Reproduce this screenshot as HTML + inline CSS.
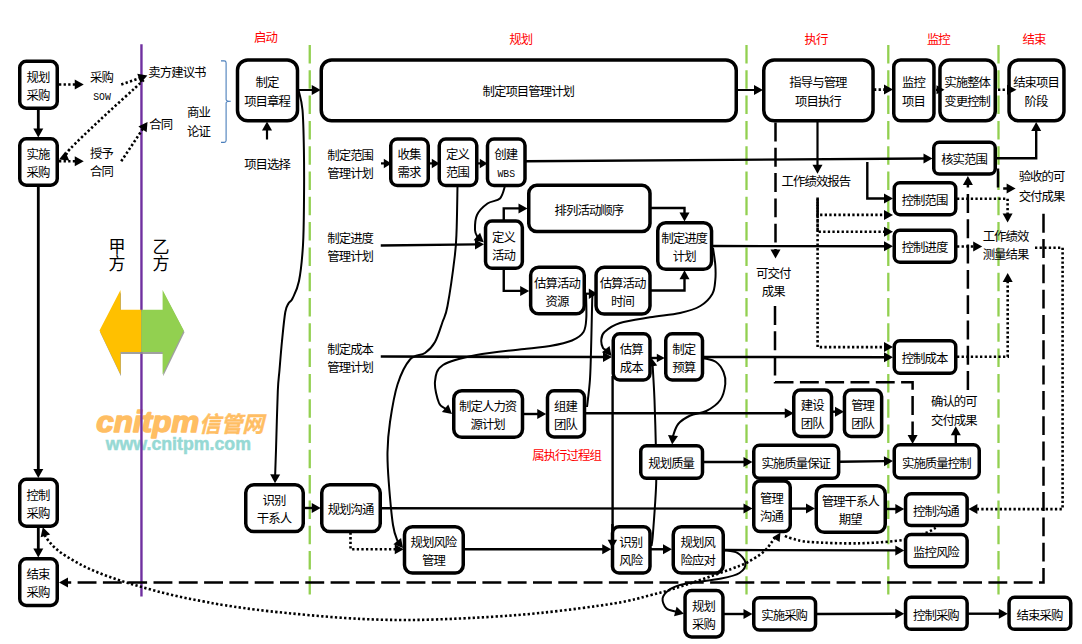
<!DOCTYPE html>
<html lang="zh-CN"><head><meta charset="utf-8"><title>项目管理过程组流程图</title>
<style>
html,body{margin:0;padding:0;background:#fff;}
body{width:1082px;height:644px;overflow:hidden;}
svg{display:block;font-family:'Liberation Sans','Noto Sans CJK SC',sans-serif;font-weight:400;}
</style></head><body>
<svg width="1082" height="644" viewBox="0 0 1082 644">
<rect width="1082" height="644" fill="#fff"/>
<line x1="309.75" y1="45" x2="309.75" y2="594.5" stroke="#92D050" stroke-width="2.3" stroke-dasharray="18.5 6.8"/>
<line x1="746.5" y1="45" x2="746.5" y2="594.5" stroke="#92D050" stroke-width="2.3" stroke-dasharray="18.5 6.8"/>
<line x1="888.3" y1="45" x2="888.3" y2="594.5" stroke="#92D050" stroke-width="2.3" stroke-dasharray="18.5 6.8"/>
<line x1="998.5" y1="45" x2="998.5" y2="594.5" stroke="#92D050" stroke-width="2.3" stroke-dasharray="18.5 6.8"/>
<text x="96.3" y="431.9" font-size="29.5" font-weight="bold" font-style="italic" fill="#FFBE63" stroke="#FFBE63" stroke-width="1.5" stroke-linejoin="round" textLength="103" lengthAdjust="spacingAndGlyphs">cnitpm</text>
<text x="199" y="432" font-size="22" font-weight="bold" font-style="italic" fill="#FFBE63" stroke="#FFBE63" stroke-width="0.4" stroke-linejoin="round" textLength="65" lengthAdjust="spacingAndGlyphs">信管网</text>
<text x="105.7" y="450.1" font-size="17.6" font-weight="bold" fill="#96D9D4" stroke="#96D9D4" stroke-width="0.5" textLength="145.3" lengthAdjust="spacingAndGlyphs">www.cnitpm.com</text>
<line x1="141.45" y1="44.3" x2="141.45" y2="596.5" stroke="#7030A0" stroke-width="2.4"/>
<polygon points="100.1,332.3 121,292 121,311.6 142,311.6 142,354 121,354 121,376.3" fill="#8f8f8f" opacity="0.85"/>
<polygon points="184.5,332.3 163.2,292 163.2,311.6 142,311.6 142,354 163.2,354 163.2,376.3" fill="#8f8f8f" opacity="0.85"/>
<polygon points="99.5,330.5 120.5,290 120.5,309.8 141.4,309.8 141.4,352 120.5,352 120.5,374.5" fill="#FFC000"/>
<polygon points="183.8,330.5 162.6,290 162.6,309.8 141.4,309.8 141.4,352 162.6,352 162.6,374.5" fill="#92D050"/>
<path d="M221,60.9 L224.2,60.9 Q226.1,60.9 226.1,62.8 L226.1,99.4 Q226.1,101.2 230.8,101.2 Q226.1,101.2 226.1,103 L226.1,140.5 Q226.1,142.4 224.2,142.4 L221,142.4" fill="none" stroke="#4A7EBB" stroke-width="1.1"/>
<polygon points="275.00,483.30 270.16,474.21 280.16,474.39" fill="#000"/>
<path d="M298.75,91.00 C299.38,94.17 301.64,100.17 302.50,110.00 C303.36,119.83 303.65,135.00 303.90,150.00 C304.15,165.00 304.15,184.17 304.00,200.00 C303.85,215.83 303.83,231.50 303.00,245.00 C302.17,258.50 300.75,272.08 299.00,281.00 C297.25,289.92 294.23,294.78 292.50,298.50 C290.77,302.22 289.80,301.05 288.60,303.30 C287.40,305.55 286.40,305.72 285.30,312.00 C284.20,318.28 282.97,331.33 282.00,341.00 C281.03,350.67 280.20,361.67 279.50,370.00 C278.80,378.33 278.38,377.67 277.80,391.00 C277.22,404.33 276.44,435.95 276.00,450.00 C275.56,464.05 275.28,471.08 275.14,475.30" fill="none" stroke="#000" stroke-width="2.0"/>
<polygon points="483.75,242.25 473.64,240.30 480.07,232.63" fill="#000"/>
<path d="M505.00,186.00 C504.17,188.08 502.92,195.58 500.00,198.50 C497.08,201.42 491.33,200.75 487.50,203.50 C483.67,206.25 479.08,210.58 477.00,215.00 C474.92,219.42 474.90,226.32 475.00,230.00 C475.10,233.68 477.18,235.92 477.62,237.11" fill="none" stroke="#000" stroke-width="2.0"/>
<polygon points="403.00,548.00 393.38,544.32 401.05,537.89" fill="#000"/>
<path d="M457.50,186.00 C457.35,193.33 457.05,218.33 456.60,230.00 C456.15,241.67 456.32,243.33 454.80,256.00 C453.28,268.67 449.55,295.00 447.50,306.00 C445.45,317.00 444.58,316.00 442.50,322.00 C440.42,328.00 437.92,336.83 435.00,342.00 C432.08,347.17 429.17,350.08 425.00,353.00 C420.83,355.92 414.58,354.25 410.00,359.50 C405.42,364.75 400.83,374.08 397.50,384.50 C394.17,394.92 391.67,410.75 390.00,422.00 C388.33,433.25 387.71,442.00 387.50,452.00 C387.29,462.00 387.83,469.83 388.75,482.00 C389.67,494.17 391.48,515.02 393.00,525.00 C394.52,534.98 397.05,539.06 397.86,541.87" fill="none" stroke="#000" stroke-width="2.0"/>
<polygon points="452.00,414.00 441.89,412.05 448.32,404.38" fill="#000"/>
<path d="M586.00,293.00 C586.05,297.17 586.72,311.50 586.30,318.00 C585.88,324.50 585.88,328.25 583.50,332.00 C581.12,335.75 577.58,338.17 572.00,340.50 C566.42,342.83 557.58,344.62 550.00,346.00 C542.42,347.38 538.75,347.30 526.50,348.80 C514.25,350.30 490.42,352.30 476.50,355.00 C462.58,357.70 449.92,360.57 443.00,365.00 C436.08,369.43 435.67,375.27 435.00,381.60 C434.33,387.93 437.19,398.46 439.00,403.00 C440.81,407.54 444.73,407.88 445.87,408.86" fill="none" stroke="#000" stroke-width="2.0"/>
<path d="M587.00,407.00 C587.50,402.33 589.28,390.17 590.00,379.00 C590.72,367.83 590.93,353.17 591.30,340.00 C591.67,326.83 591.92,307.67 592.20,300.00 C592.48,292.33 592.87,295.00 593.00,294.00" fill="none" stroke="#000" stroke-width="2.0"/>
<polygon points="611.50,356.00 601.88,352.32 609.55,345.89" fill="#000"/>
<path d="M713.00,248.00 C713.38,250.83 714.92,259.67 715.30,265.00 C715.68,270.33 715.80,275.17 715.30,280.00 C714.80,284.83 714.80,289.67 712.30,294.00 C709.80,298.33 705.68,302.83 700.30,306.00 C694.92,309.17 688.38,311.12 680.00,313.00 C671.62,314.88 660.00,315.63 650.00,317.30 C640.00,318.97 627.58,320.55 620.00,323.00 C612.42,325.45 607.62,329.17 604.50,332.00 C601.38,334.83 601.55,337.33 601.30,340.00 C601.05,342.67 602.16,346.35 603.00,348.00 C603.84,349.65 605.80,349.56 606.36,349.87" fill="none" stroke="#000" stroke-width="2.0"/>
<polygon points="672.20,444.50 668.00,435.10 677.97,435.97" fill="#000"/>
<path d="M703.75,358.25 C705.79,358.88 712.71,359.71 716.00,362.00 C719.29,364.29 721.95,368.33 723.50,372.00 C725.05,375.67 725.83,379.33 725.30,384.00 C724.77,388.67 723.47,395.50 720.30,400.00 C717.13,404.50 711.30,408.42 706.30,411.00 C701.30,413.58 694.98,413.33 690.30,415.50 C685.62,417.67 681.08,420.58 678.20,424.00 C675.32,427.42 673.88,433.91 673.00,436.00 C672.12,438.09 672.91,436.44 672.90,436.53" fill="none" stroke="#000" stroke-width="2.0"/>
<polygon points="651.30,357.80 657.21,365.39 648.34,366.95" fill="#000"/>
<path d="M651.50,546.00 C651.75,543.83 652.22,543.50 653.00,533.00 C653.78,522.50 655.73,497.75 656.20,483.00 C656.67,468.25 656.08,458.33 655.80,444.50 C655.52,430.67 654.93,411.58 654.50,400.00 C654.07,388.42 653.52,380.80 653.20,375.00 C652.88,369.20 652.70,366.82 652.60,365.19" fill="none" stroke="#000" stroke-width="2.0"/>
<polygon points="684.00,613.80 674.01,616.30 676.60,606.64" fill="#000"/>
<path d="M724.20,550.30 C726.40,550.73 733.87,550.82 737.40,552.90 C740.93,554.98 745.05,559.45 745.40,562.80 C745.75,566.15 743.53,570.37 739.50,573.00 C735.47,575.63 728.62,577.07 721.20,578.60 C713.78,580.13 701.87,581.13 695.00,582.20 C688.13,583.27 684.33,583.70 680.00,585.00 C675.67,586.30 671.90,587.78 669.00,590.00 C666.10,592.22 663.05,595.27 662.60,598.30 C662.15,601.33 664.02,605.96 666.30,608.20 C668.58,610.44 674.61,611.14 676.27,611.73" fill="none" stroke="#000" stroke-width="2.0"/>
<polygon points="38.30,137.50 33.30,128.50 43.30,128.50" fill="#000"/>
<path d="M38.30,108.00 L38.30,129.50" fill="none" stroke="#000" stroke-width="2.8"/>
<polygon points="38.30,478.00 33.30,469.00 43.30,469.00" fill="#000"/>
<path d="M38.30,186.00 L38.30,470.00" fill="none" stroke="#000" stroke-width="2.8"/>
<polygon points="38.30,557.50 33.30,548.50 43.30,548.50" fill="#000"/>
<path d="M38.30,527.00 L38.30,549.50" fill="none" stroke="#000" stroke-width="2.8"/>
<polygon points="267.00,121.50 272.00,130.50 262.00,130.50" fill="#000"/>
<path d="M267.00,139.50 L267.00,129.50" fill="none" stroke="#000" stroke-width="2.2"/>
<polygon points="320.75,90.00 311.75,95.00 311.75,85.00" fill="#000"/>
<path d="M298.00,90.00 L312.75,90.00" fill="none" stroke="#000" stroke-width="2"/>
<polygon points="763.00,90.00 754.00,95.00 754.00,85.00" fill="#000"/>
<path d="M737.00,90.00 L755.00,90.00" fill="none" stroke="#000" stroke-width="2"/>
<polygon points="932.50,158.40 923.54,163.46 923.47,153.46" fill="#000"/>
<path d="M526.00,161.25 L924.50,158.46" fill="none" stroke="#000" stroke-width="2.4"/>
<polygon points="484.00,244.30 475.06,249.40 474.94,239.40" fill="#000"/>
<path d="M380.75,245.50 L476.00,244.39" fill="none" stroke="#000" stroke-width="2.4"/>
<polygon points="527.50,208.40 518.50,213.40 518.50,203.40" fill="#000"/>
<path d="M503.75,220.00 L503.75,208.40 L519.50,208.40" fill="none" stroke="#000" stroke-width="2.4"/>
<polygon points="529.20,290.90 520.20,295.90 520.20,285.90" fill="#000"/>
<path d="M503.75,268.00 L503.75,290.90 L521.20,290.90" fill="none" stroke="#000" stroke-width="2.4"/>
<polygon points="684.50,221.50 679.50,212.50 689.50,212.50" fill="#000"/>
<path d="M651.00,208.00 L684.50,208.00 L684.50,213.50" fill="none" stroke="#000" stroke-width="2.4"/>
<polygon points="684.50,270.25 689.50,279.25 679.50,279.25" fill="#000"/>
<path d="M651.00,290.50 L684.50,290.50 L684.50,278.25" fill="none" stroke="#000" stroke-width="2.4"/>
<polygon points="893.00,246.30 883.99,251.29 884.01,241.29" fill="#000"/>
<path d="M712.00,246.00 L885.00,246.29" fill="none" stroke="#000" stroke-width="2.4"/>
<polygon points="612.00,357.00 602.99,361.98 603.01,351.98" fill="#000"/>
<path d="M380.75,356.50 L604.00,356.98" fill="none" stroke="#000" stroke-width="2.7"/>
<polygon points="664.80,358.00 656.80,362.25 656.80,353.75" fill="#000"/>
<path d="M651.00,358.00 L657.80,358.00" fill="none" stroke="#000" stroke-width="2.4"/>
<polygon points="893.00,357.20 883.99,362.19 884.01,352.19" fill="#000"/>
<path d="M703.50,357.00 L885.00,357.19" fill="none" stroke="#000" stroke-width="2.4"/>
<polygon points="546.25,414.00 537.25,419.00 537.25,409.00" fill="#000"/>
<path d="M523.50,414.00 L538.25,414.00" fill="none" stroke="#000" stroke-width="2.4"/>
<polygon points="793.75,413.25 784.75,418.25 784.75,408.25" fill="#000"/>
<path d="M585.50,413.25 L785.75,413.25" fill="none" stroke="#000" stroke-width="2.4"/>
<polygon points="844.00,411.70 835.00,416.70 835.00,406.70" fill="#000"/>
<path d="M832.00,411.70 L836.00,411.70" fill="none" stroke="#000" stroke-width="2.4"/>
<polygon points="752.50,462.00 743.50,467.00 743.50,457.00" fill="#000"/>
<path d="M703.50,462.00 L744.50,462.00" fill="none" stroke="#000" stroke-width="2.4"/>
<polygon points="893.00,461.00 884.08,466.13 883.93,456.14" fill="#000"/>
<path d="M839.50,461.80 L885.00,461.12" fill="none" stroke="#000" stroke-width="2.4"/>
<polygon points="955.80,426.30 960.80,435.30 950.80,435.30" fill="#000"/>
<path d="M955.80,444.50 L955.80,434.30" fill="none" stroke="#000" stroke-width="2.4"/>
<polygon points="320.75,508.00 311.75,513.00 311.75,503.00" fill="#000"/>
<path d="M303.50,508.00 L312.75,508.00" fill="none" stroke="#000" stroke-width="2.4"/>
<polygon points="752.50,508.60 743.50,513.59 743.50,503.59" fill="#000"/>
<path d="M381.00,508.30 L744.50,508.59" fill="none" stroke="#000" stroke-width="2.4"/>
<polygon points="815.00,508.60 806.00,513.60 806.00,503.60" fill="#000"/>
<path d="M791.00,508.60 L807.00,508.60" fill="none" stroke="#000" stroke-width="2.4"/>
<polygon points="904.30,509.00 895.30,514.00 895.30,504.00" fill="#000"/>
<path d="M886.00,509.00 L896.30,509.00" fill="none" stroke="#000" stroke-width="2.4"/>
<polygon points="611.25,549.25 602.25,554.25 602.25,544.25" fill="#000"/>
<path d="M464.00,549.25 L603.25,549.25" fill="none" stroke="#000" stroke-width="2.4"/>
<polygon points="672.00,549.25 663.00,554.25 663.00,544.25" fill="#000"/>
<path d="M651.00,549.25 L664.00,549.25" fill="none" stroke="#000" stroke-width="2.4"/>
<polygon points="904.30,550.40 895.29,555.38 895.31,545.38" fill="#000"/>
<path d="M724.00,550.00 L896.30,550.38" fill="none" stroke="#000" stroke-width="2.4"/>
<polygon points="752.50,614.00 743.50,619.00 743.50,609.00" fill="#000"/>
<path d="M724.00,614.00 L744.50,614.00" fill="none" stroke="#000" stroke-width="2.4"/>
<polygon points="904.30,613.70 895.32,618.73 895.28,608.73" fill="#000"/>
<path d="M816.00,614.00 L896.30,613.73" fill="none" stroke="#000" stroke-width="2.4"/>
<polygon points="1007.80,613.70 998.80,618.70 998.80,608.70" fill="#000"/>
<path d="M968.00,613.70 L999.80,613.70" fill="none" stroke="#000" stroke-width="2.4"/>
<polygon points="817.50,173.75 812.50,164.75 822.50,164.75" fill="#000"/>
<path d="M817.50,122.00 L817.50,165.75" fill="none" stroke="#000" stroke-width="2.2"/>
<polygon points="1036.20,122.00 1041.20,131.00 1031.20,131.00" fill="#000"/>
<path d="M996.00,158.30 L1036.20,158.30 L1036.20,130.00" fill="none" stroke="#000" stroke-width="2.4"/>
<polygon points="893.00,198.50 884.00,203.50 884.00,193.50" fill="#000"/>
<path d="M867.30,162.00 L867.30,198.50 L885.00,198.50" fill="none" stroke="#000" stroke-width="2.4"/>
<path d="M612.60,376.00 L612.60,530.00" fill="none" stroke="#000" stroke-width="2.4"/>
<polygon points="83.75,84.50 74.75,89.50 74.75,79.50" fill="#000"/>
<path d="M59.00,84.50 L75.75,84.50" fill="none" stroke="#000" stroke-width="2.6" stroke-dasharray="2.3 2.3"/>
<polygon points="147.40,75.60 140.49,83.23 137.27,73.77" fill="#000"/>
<path d="M121.25,84.50 L139.83,78.18" fill="none" stroke="#000" stroke-width="2.6" stroke-dasharray="2.3 2.3"/>
<polygon points="59.00,159.50 65.33,151.38 69.24,160.59" fill="#000"/>
<path d="M143.75,80.00 C136.46,86.67 112.29,108.50 100.00,120.00 C87.71,131.50 75.61,142.94 70.00,149.00 C64.39,155.06 66.97,155.15 66.36,156.37" fill="none" stroke="#000" stroke-width="2.6" stroke-dasharray="2.3 2.3"/>
<polygon points="83.75,161.25 74.75,166.25 74.75,156.25" fill="#000"/>
<path d="M59.00,161.25 L75.75,161.25" fill="none" stroke="#000" stroke-width="2.6" stroke-dasharray="2.3 2.3"/>
<polygon points="147.50,121.90 146.66,132.16 138.35,126.61" fill="#000"/>
<path d="M121.25,161.25 L143.06,128.56" fill="none" stroke="#000" stroke-width="2.6" stroke-dasharray="2.3 2.3"/>
<polygon points="893.00,347.10 884.00,352.10 884.00,342.10" fill="#000"/>
<path d="M817.60,197.50 L817.60,347.10 L885.00,347.10" fill="none" stroke="#000" stroke-width="2.6" stroke-dasharray="2.3 2.3"/>
<polygon points="893.00,214.90 884.00,219.90 884.00,209.90" fill="#000"/>
<path d="M817.60,199.00 L817.60,214.90 L885.00,214.90" fill="none" stroke="#000" stroke-width="2.6" stroke-dasharray="2.3 2.3"/>
<polygon points="893.00,231.70 884.00,236.70 884.00,226.70" fill="#000"/>
<path d="M817.60,200.50 L817.60,231.70 L885.00,231.70" fill="none" stroke="#000" stroke-width="2.6" stroke-dasharray="2.3 2.3"/>
<polygon points="1007.60,222.60 1002.60,213.60 1012.60,213.60" fill="#000"/>
<path d="M957.00,198.70 L1007.60,198.70 L1007.60,214.60" fill="none" stroke="#000" stroke-width="2.6" stroke-dasharray="2.3 2.3"/>
<polygon points="982.20,246.50 973.20,251.50 973.20,241.50" fill="#000"/>
<path d="M957.00,246.50 L974.20,246.50" fill="none" stroke="#000" stroke-width="2.6" stroke-dasharray="2.3 2.3"/>
<polygon points="1007.70,272.90 1012.70,281.90 1002.70,281.90" fill="#000"/>
<path d="M957.00,356.70 L1007.70,356.70 L1007.70,280.90" fill="none" stroke="#000" stroke-width="2.6" stroke-dasharray="2.3 2.3"/>
<polygon points="968.40,509.10 977.40,504.10 977.40,514.10" fill="#000"/>
<path d="M1035.00,247.70 L1062.60,247.70 L1062.60,509.10 L976.40,509.10" fill="none" stroke="#000" stroke-width="2.6" stroke-dasharray="2.3 2.3"/>
<polygon points="403.75,549.25 394.75,554.25 394.75,544.25" fill="#000"/>
<path d="M350.50,532.50 L350.50,549.25 L395.75,549.25" fill="none" stroke="#000" stroke-width="2.6" stroke-dasharray="2.3 2.3"/>
<polygon points="893.00,89.60 884.00,94.60 884.00,84.60" fill="#000"/>
<path d="M874.00,89.60 L885.00,89.60" fill="none" stroke="#000" stroke-width="2.6" stroke-dasharray="2.3 2.3"/>
<polygon points="42.80,527.30 50.21,534.44 40.65,537.37" fill="#000"/>
<path d="M45.14,534.95 C45.20,535.21 44.56,535.08 45.50,536.50 C46.44,537.92 48.22,540.80 50.80,543.50 C53.38,546.20 55.92,549.13 61.00,552.70 C66.08,556.27 74.52,561.35 81.30,564.90 C88.08,568.45 94.92,571.30 101.70,574.00 C108.48,576.70 115.23,578.90 122.00,581.10 C128.77,583.30 135.52,585.27 142.30,587.20 C149.08,589.13 155.92,591.00 162.70,592.70 C169.48,594.40 176.23,595.95 183.00,597.40 C189.77,598.85 196.30,600.08 203.30,601.40 C210.30,602.72 213.88,603.65 225.00,605.30 C236.12,606.95 250.00,609.18 270.00,611.30 C290.00,613.42 322.50,616.55 345.00,618.00 C367.50,619.45 384.17,620.00 405.00,620.00 C425.83,620.00 447.50,619.17 470.00,618.00 C492.50,616.83 515.83,615.45 540.00,613.00 C564.17,610.55 596.67,606.25 615.00,603.30 C633.33,600.35 640.78,597.55 650.00,595.30 C659.22,593.05 663.52,591.82 670.30,589.80 C677.08,587.78 683.92,585.47 690.70,583.20 C697.48,580.93 704.23,578.58 711.00,576.20 C717.77,573.82 725.20,571.22 731.30,568.90 C737.40,566.58 742.17,565.18 747.60,562.30 C753.03,559.42 759.83,555.02 763.90,551.60 C767.97,548.18 769.98,544.40 772.00,541.80 C774.02,539.20 775.33,536.97 776.00,536.00" fill="none" stroke="#000" stroke-width="2.6" stroke-dasharray="2.3 2.3"/>
<path d="M935.70,527.70 C934.42,528.42 933.03,530.02 928.00,532.00 C922.97,533.98 916.83,537.72 905.50,539.60 C894.17,541.48 875.92,542.90 860.00,543.30 C844.08,543.70 821.33,542.80 810.00,542.00 C798.67,541.20 796.33,539.58 792.00,538.50 C787.67,537.42 785.33,536.00 784.00,535.50" fill="none" stroke="#000" stroke-width="2.6" stroke-dasharray="2.3 2.3"/>
<polygon points="775.50,258.50 770.50,249.50 780.50,249.50" fill="#000"/>
<path d="M775.50,122.50 L775.50,250.50" fill="none" stroke="#000" stroke-width="2.5" stroke-dasharray="18.9 6.4"/>
<polygon points="912.60,444.00 907.60,435.00 917.60,435.00" fill="#000"/>
<path d="M775.00,306.00 L775.00,382.30 L912.60,382.30 L912.60,436.00" fill="none" stroke="#000" stroke-width="2.5" stroke-dasharray="18.9 6.4"/>
<polygon points="967.90,176.00 972.90,185.00 962.90,185.00" fill="#000"/>
<path d="M967.90,390.00 L967.90,184.00" fill="none" stroke="#000" stroke-width="2.5" stroke-dasharray="18.9 6.4"/>
<polygon points="1015.60,188.60 1006.60,193.60 1006.60,183.60" fill="#000"/>
<path d="M998.00,168.50 L998.00,188.60 L1007.60,188.60" fill="none" stroke="#000" stroke-width="2.5" stroke-dasharray="18.9 6.4"/>
<polygon points="59.00,582.40 68.00,577.40 68.00,587.40" fill="#000"/>
<path d="M1043.50,213.80 L1043.50,582.40 L67.00,582.40" fill="none" stroke="#000" stroke-width="2.5" stroke-dasharray="18.9 6.4"/>
<rect x="19.75" y="61.25" width="37.50" height="47.00" rx="6.55" ry="6.55" fill="#fff" stroke="#000" stroke-width="3.5"/>
<text transform="translate(38.02,81.95) scale(1.0,1)" font-size="12.4" fill="#000" text-anchor="middle" letter-spacing="-0.95" >规划</text>
<text transform="translate(38.02,99.95) scale(1.0,1)" font-size="12.4" fill="#000" text-anchor="middle" letter-spacing="-0.95" >采购</text>
<rect x="19.75" y="138.75" width="37.50" height="46.50" rx="6.55" ry="6.55" fill="#fff" stroke="#000" stroke-width="3.5"/>
<text transform="translate(38.02,159.20) scale(1.0,1)" font-size="12.4" fill="#000" text-anchor="middle" letter-spacing="-0.95" >实施</text>
<text transform="translate(38.02,177.20) scale(1.0,1)" font-size="12.4" fill="#000" text-anchor="middle" letter-spacing="-0.95" >采购</text>
<rect x="19.75" y="479.25" width="37.50" height="47.00" rx="6.55" ry="6.55" fill="#fff" stroke="#000" stroke-width="3.5"/>
<text transform="translate(38.02,499.95) scale(1.0,1)" font-size="12.4" fill="#000" text-anchor="middle" letter-spacing="-0.95" >控制</text>
<text transform="translate(38.02,517.95) scale(1.0,1)" font-size="12.4" fill="#000" text-anchor="middle" letter-spacing="-0.95" >采购</text>
<rect x="19.75" y="558.75" width="37.50" height="46.75" rx="6.55" ry="6.55" fill="#fff" stroke="#000" stroke-width="3.5"/>
<text transform="translate(38.02,579.32) scale(1.0,1)" font-size="12.4" fill="#000" text-anchor="middle" letter-spacing="-0.95" >结束</text>
<text transform="translate(38.02,597.32) scale(1.0,1)" font-size="12.4" fill="#000" text-anchor="middle" letter-spacing="-0.95" >采购</text>
<rect x="237.50" y="60.00" width="60.00" height="60.75" rx="10.3" ry="10.3" fill="#fff" stroke="#000" stroke-width="3.5"/>
<text transform="translate(267.02,87.10) scale(1.0,1)" font-size="12.4" fill="#000" text-anchor="middle" letter-spacing="-0.95" >制定</text>
<text transform="translate(267.02,106.10) scale(1.0,1)" font-size="12.4" fill="#000" text-anchor="middle" letter-spacing="-0.95" >项目章程</text>
<rect x="321.25" y="60.00" width="415.00" height="60.75" rx="10.43" ry="10.43" fill="#fff" stroke="#000" stroke-width="3.5"/>
<text transform="translate(528.27,95.70) scale(1.0,1)" font-size="12.4" fill="#000" text-anchor="middle" letter-spacing="-0.95" >制定项目管理计划</text>
<rect x="763.75" y="60.00" width="109.30" height="60.75" rx="10.43" ry="10.43" fill="#fff" stroke="#000" stroke-width="3.5"/>
<text transform="translate(817.92,87.10) scale(1.0,1)" font-size="12.4" fill="#000" text-anchor="middle" letter-spacing="-0.95" >指导与管理</text>
<text transform="translate(817.92,106.10) scale(1.0,1)" font-size="12.4" fill="#000" text-anchor="middle" letter-spacing="-0.95" >项目执行</text>
<rect x="893.75" y="60.00" width="40.20" height="60.75" rx="7.0" ry="7.0" fill="#fff" stroke="#000" stroke-width="3.5"/>
<text transform="translate(913.38,87.10) scale(1.0,1)" font-size="12.4" fill="#000" text-anchor="middle" letter-spacing="-0.95" >监控</text>
<text transform="translate(913.38,106.10) scale(1.0,1)" font-size="12.4" fill="#000" text-anchor="middle" letter-spacing="-0.95" >项目</text>
<rect x="939.95" y="60.00" width="55.30" height="60.75" rx="9.52" ry="9.52" fill="#fff" stroke="#000" stroke-width="3.5"/>
<text transform="translate(967.12,87.10) scale(1.0,1)" font-size="12.4" fill="#000" text-anchor="middle" letter-spacing="-0.95" >实施整体</text>
<text transform="translate(967.12,106.10) scale(1.0,1)" font-size="12.4" fill="#000" text-anchor="middle" letter-spacing="-0.95" >变更控制</text>
<rect x="1009.05" y="60.00" width="54.90" height="60.75" rx="9.45" ry="9.45" fill="#fff" stroke="#000" stroke-width="3.5"/>
<text transform="translate(1036.03,87.10) scale(1.0,1)" font-size="12.4" fill="#000" text-anchor="middle" letter-spacing="-0.95" >结束项目</text>
<text transform="translate(1036.03,106.10) scale(1.0,1)" font-size="12.4" fill="#000" text-anchor="middle" letter-spacing="-0.95" >阶段</text>
<rect x="390.75" y="138.95" width="37.50" height="46.60" rx="6.55" ry="6.55" fill="#fff" stroke="#000" stroke-width="3.5"/>
<text transform="translate(409.02,159.45) scale(1.0,1)" font-size="12.4" fill="#000" text-anchor="middle" letter-spacing="-0.95" >收集</text>
<text transform="translate(409.02,177.45) scale(1.0,1)" font-size="12.4" fill="#000" text-anchor="middle" letter-spacing="-0.95" >需求</text>
<rect x="439.25" y="138.95" width="37.50" height="46.60" rx="6.55" ry="6.55" fill="#fff" stroke="#000" stroke-width="3.5"/>
<text transform="translate(457.52,159.45) scale(1.0,1)" font-size="12.4" fill="#000" text-anchor="middle" letter-spacing="-0.95" >定义</text>
<text transform="translate(457.52,177.45) scale(1.0,1)" font-size="12.4" fill="#000" text-anchor="middle" letter-spacing="-0.95" >范围</text>
<rect x="487.50" y="138.95" width="37.50" height="46.60" rx="6.55" ry="6.55" fill="#fff" stroke="#000" stroke-width="3.5"/>
<text transform="translate(505.77,159.45) scale(1.0,1)" font-size="12.4" fill="#000" text-anchor="middle" letter-spacing="-0.95" >创建</text>
<text transform="translate(506.25,177.40) scale(0.85,1)" font-size="11.5" fill="#000" text-anchor="middle" letter-spacing="0" font-family="Liberation Mono,monospace">WBS</text>
<rect x="528.75" y="185.35" width="121.25" height="46.20" rx="8.0" ry="8.0" fill="#fff" stroke="#000" stroke-width="3.5"/>
<text transform="translate(588.90,214.65) scale(1.0,1)" font-size="12.4" fill="#000" text-anchor="middle" letter-spacing="-0.95" >排列活动顺序</text>
<rect x="485.55" y="221.05" width="36.80" height="47.20" rx="6.43" ry="6.43" fill="#fff" stroke="#000" stroke-width="3.5"/>
<text transform="translate(503.48,241.85) scale(1.0,1)" font-size="12.4" fill="#000" text-anchor="middle" letter-spacing="-0.95" >定义</text>
<text transform="translate(503.48,259.85) scale(1.0,1)" font-size="12.4" fill="#000" text-anchor="middle" letter-spacing="-0.95" >活动</text>
<rect x="530.65" y="267.25" width="53.60" height="46.50" rx="8.05" ry="8.05" fill="#fff" stroke="#000" stroke-width="3.5"/>
<text transform="translate(556.98,287.70) scale(1.0,1)" font-size="12.4" fill="#000" text-anchor="middle" letter-spacing="-0.95" >估算活动</text>
<text transform="translate(556.98,305.70) scale(1.0,1)" font-size="12.4" fill="#000" text-anchor="middle" letter-spacing="-0.95" >资源</text>
<rect x="596.05" y="267.25" width="53.95" height="46.80" rx="8.1" ry="8.1" fill="#fff" stroke="#000" stroke-width="3.5"/>
<text transform="translate(622.55,287.85) scale(1.0,1)" font-size="12.4" fill="#000" text-anchor="middle" letter-spacing="-0.95" >估算活动</text>
<text transform="translate(622.55,305.85) scale(1.0,1)" font-size="12.4" fill="#000" text-anchor="middle" letter-spacing="-0.95" >时间</text>
<rect x="657.75" y="222.75" width="53.80" height="46.50" rx="8.05" ry="8.05" fill="#fff" stroke="#000" stroke-width="3.5"/>
<text transform="translate(684.17,243.20) scale(1.0,1)" font-size="12.4" fill="#000" text-anchor="middle" letter-spacing="-0.95" >制定进度</text>
<text transform="translate(684.17,261.20) scale(1.0,1)" font-size="12.4" fill="#000" text-anchor="middle" letter-spacing="-0.95" >计划</text>
<rect x="613.25" y="333.75" width="36.75" height="46.25" rx="6.43" ry="6.43" fill="#fff" stroke="#000" stroke-width="3.5"/>
<text transform="translate(631.15,354.07) scale(1.0,1)" font-size="12.4" fill="#000" text-anchor="middle" letter-spacing="-0.95" >估算</text>
<text transform="translate(631.15,372.07) scale(1.0,1)" font-size="12.4" fill="#000" text-anchor="middle" letter-spacing="-0.95" >成本</text>
<rect x="665.75" y="333.75" width="36.75" height="46.25" rx="6.43" ry="6.43" fill="#fff" stroke="#000" stroke-width="3.5"/>
<text transform="translate(683.65,354.07) scale(1.0,1)" font-size="12.4" fill="#000" text-anchor="middle" letter-spacing="-0.95" >制定</text>
<text transform="translate(683.65,372.07) scale(1.0,1)" font-size="12.4" fill="#000" text-anchor="middle" letter-spacing="-0.95" >预算</text>
<rect x="453.75" y="390.75" width="68.75" height="46.50" rx="8.05" ry="8.05" fill="#fff" stroke="#000" stroke-width="3.5"/>
<text transform="translate(487.65,411.20) scale(1.0,1)" font-size="12.4" fill="#000" text-anchor="middle" letter-spacing="-0.95" >制定人力资</text>
<text transform="translate(487.65,429.20) scale(1.0,1)" font-size="12.4" fill="#000" text-anchor="middle" letter-spacing="-0.95" >源计划</text>
<rect x="547.50" y="390.75" width="37.00" height="46.25" rx="6.47" ry="6.47" fill="#fff" stroke="#000" stroke-width="3.5"/>
<text transform="translate(565.52,411.07) scale(1.0,1)" font-size="12.4" fill="#000" text-anchor="middle" letter-spacing="-0.95" >组建</text>
<text transform="translate(565.52,429.07) scale(1.0,1)" font-size="12.4" fill="#000" text-anchor="middle" letter-spacing="-0.95" >团队</text>
<rect x="793.75" y="390.05" width="37.80" height="46.40" rx="6.6" ry="6.6" fill="#fff" stroke="#000" stroke-width="3.5"/>
<text transform="translate(812.17,410.45) scale(1.0,1)" font-size="12.4" fill="#000" text-anchor="middle" letter-spacing="-0.95" >建设</text>
<text transform="translate(812.17,428.45) scale(1.0,1)" font-size="12.4" fill="#000" text-anchor="middle" letter-spacing="-0.95" >团队</text>
<rect x="844.45" y="390.05" width="37.20" height="46.40" rx="6.5" ry="6.5" fill="#fff" stroke="#000" stroke-width="3.5"/>
<text transform="translate(862.57,410.45) scale(1.0,1)" font-size="12.4" fill="#000" text-anchor="middle" letter-spacing="-0.95" >管理</text>
<text transform="translate(862.57,428.45) scale(1.0,1)" font-size="12.4" fill="#000" text-anchor="middle" letter-spacing="-0.95" >团队</text>
<rect x="640.75" y="445.75" width="61.75" height="32.50" rx="5.72" ry="5.72" fill="#fff" stroke="#000" stroke-width="3.5"/>
<text transform="translate(671.15,468.20) scale(1.0,1)" font-size="12.4" fill="#000" text-anchor="middle" letter-spacing="-0.95" >规划质量</text>
<rect x="753.75" y="445.35" width="84.90" height="32.90" rx="5.78" ry="5.78" fill="#fff" stroke="#000" stroke-width="3.5"/>
<text transform="translate(795.73,468.00) scale(1.0,1)" font-size="12.4" fill="#000" text-anchor="middle" letter-spacing="-0.95" >实施质量保证</text>
<rect x="894.25" y="444.75" width="85.00" height="33.30" rx="5.85" ry="5.85" fill="#fff" stroke="#000" stroke-width="3.5"/>
<text transform="translate(936.27,467.60) scale(1.0,1)" font-size="12.4" fill="#000" text-anchor="middle" letter-spacing="-0.95" >实施质量控制</text>
<rect x="933.75" y="142.25" width="61.50" height="31.80" rx="5.6" ry="5.6" fill="#fff" stroke="#000" stroke-width="3.5"/>
<text transform="translate(964.02,164.35) scale(1.0,1)" font-size="12.4" fill="#000" text-anchor="middle" letter-spacing="-0.95" >核实范围</text>
<rect x="894.25" y="182.75" width="61.50" height="32.00" rx="5.63" ry="5.63" fill="#fff" stroke="#000" stroke-width="3.5"/>
<text transform="translate(924.52,204.95) scale(1.0,1)" font-size="12.4" fill="#000" text-anchor="middle" letter-spacing="-0.95" >控制范围</text>
<rect x="894.25" y="230.25" width="61.50" height="32.00" rx="5.63" ry="5.63" fill="#fff" stroke="#000" stroke-width="3.5"/>
<text transform="translate(924.52,252.45) scale(1.0,1)" font-size="12.4" fill="#000" text-anchor="middle" letter-spacing="-0.95" >控制进度</text>
<rect x="894.25" y="340.85" width="61.50" height="32.40" rx="5.7" ry="5.7" fill="#fff" stroke="#000" stroke-width="3.5"/>
<text transform="translate(924.52,363.25) scale(1.0,1)" font-size="12.4" fill="#000" text-anchor="middle" letter-spacing="-0.95" >控制成本</text>
<rect x="245.75" y="484.75" width="57.50" height="46.80" rx="8.1" ry="8.1" fill="#fff" stroke="#000" stroke-width="3.5"/>
<text transform="translate(274.02,505.35) scale(1.0,1)" font-size="12.4" fill="#000" text-anchor="middle" letter-spacing="-0.95" >识别</text>
<text transform="translate(274.02,523.35) scale(1.0,1)" font-size="12.4" fill="#000" text-anchor="middle" letter-spacing="-0.95" >干系人</text>
<rect x="321.75" y="484.75" width="58.50" height="46.80" rx="8.1" ry="8.1" fill="#fff" stroke="#000" stroke-width="3.5"/>
<text transform="translate(350.52,514.35) scale(1.0,1)" font-size="12.4" fill="#000" text-anchor="middle" letter-spacing="-0.95" >规划沟通</text>
<rect x="404.50" y="526.65" width="58.75" height="46.40" rx="8.03" ry="8.03" fill="#fff" stroke="#000" stroke-width="3.5"/>
<text transform="translate(433.40,547.05) scale(1.0,1)" font-size="12.4" fill="#000" text-anchor="middle" letter-spacing="-0.95" >规划风险</text>
<text transform="translate(433.40,565.05) scale(1.0,1)" font-size="12.4" fill="#000" text-anchor="middle" letter-spacing="-0.95" >管理</text>
<rect x="612.50" y="526.65" width="37.50" height="46.40" rx="6.55" ry="6.55" fill="#fff" stroke="#000" stroke-width="3.5"/>
<text transform="translate(630.77,547.05) scale(1.0,1)" font-size="12.4" fill="#000" text-anchor="middle" letter-spacing="-0.95" >识别</text>
<text transform="translate(630.77,565.05) scale(1.0,1)" font-size="12.4" fill="#000" text-anchor="middle" letter-spacing="-0.95" >风险</text>
<rect x="673.25" y="526.65" width="50.00" height="46.40" rx="8.03" ry="8.03" fill="#fff" stroke="#000" stroke-width="3.5"/>
<text transform="translate(697.77,547.05) scale(1.0,1)" font-size="12.4" fill="#000" text-anchor="middle" letter-spacing="-0.95" >规划风</text>
<text transform="translate(697.77,565.05) scale(1.0,1)" font-size="12.4" fill="#000" text-anchor="middle" letter-spacing="-0.95" >险应对</text>
<rect x="753.75" y="480.95" width="36.50" height="50.60" rx="6.38" ry="6.38" fill="#fff" stroke="#000" stroke-width="3.5"/>
<text transform="translate(771.52,503.45) scale(1.0,1)" font-size="12.4" fill="#000" text-anchor="middle" letter-spacing="-0.95" >管理</text>
<text transform="translate(771.52,521.45) scale(1.0,1)" font-size="12.4" fill="#000" text-anchor="middle" letter-spacing="-0.95" >沟通</text>
<rect x="816.25" y="485.75" width="69.00" height="46.50" rx="8.05" ry="8.05" fill="#fff" stroke="#000" stroke-width="3.5"/>
<text transform="translate(850.27,506.20) scale(1.0,1)" font-size="12.4" fill="#000" text-anchor="middle" letter-spacing="-0.95" >管理干系人</text>
<text transform="translate(850.27,524.20) scale(1.0,1)" font-size="12.4" fill="#000" text-anchor="middle" letter-spacing="-0.95" >期望</text>
<rect x="905.55" y="493.75" width="61.60" height="31.80" rx="5.6" ry="5.6" fill="#fff" stroke="#000" stroke-width="3.5"/>
<text transform="translate(935.87,515.85) scale(1.0,1)" font-size="12.4" fill="#000" text-anchor="middle" letter-spacing="-0.95" >控制沟通</text>
<rect x="905.55" y="534.55" width="61.60" height="32.30" rx="5.68" ry="5.68" fill="#fff" stroke="#000" stroke-width="3.5"/>
<text transform="translate(935.87,556.90) scale(1.0,1)" font-size="12.4" fill="#000" text-anchor="middle" letter-spacing="-0.95" >监控风险</text>
<rect x="685.05" y="590.50" width="37.90" height="46.45" rx="6.62" ry="6.62" fill="#fff" stroke="#000" stroke-width="3.5"/>
<text transform="translate(703.52,610.92) scale(1.0,1)" font-size="12.4" fill="#000" text-anchor="middle" letter-spacing="-0.95" >规划</text>
<text transform="translate(703.52,628.92) scale(1.0,1)" font-size="12.4" fill="#000" text-anchor="middle" letter-spacing="-0.95" >采购</text>
<rect x="753.75" y="597.75" width="61.80" height="32.30" rx="5.68" ry="5.68" fill="#fff" stroke="#000" stroke-width="3.5"/>
<text transform="translate(784.17,620.10) scale(1.0,1)" font-size="12.4" fill="#000" text-anchor="middle" letter-spacing="-0.95" >实施采购</text>
<rect x="905.55" y="597.35" width="61.60" height="32.00" rx="5.63" ry="5.63" fill="#fff" stroke="#000" stroke-width="3.5"/>
<text transform="translate(935.87,619.55) scale(1.0,1)" font-size="12.4" fill="#000" text-anchor="middle" letter-spacing="-0.95" >控制采购</text>
<rect x="1009.05" y="597.35" width="61.70" height="32.00" rx="5.63" ry="5.63" fill="#fff" stroke="#000" stroke-width="3.5"/>
<text transform="translate(1039.43,619.55) scale(1.0,1)" font-size="12.4" fill="#000" text-anchor="middle" letter-spacing="-0.95" >结束采购</text>
<polygon points="612.40,548.30 607.65,539.80 617.15,539.80" fill="#000"/>
<path d="M612.40,524.00 L612.40,540.80" fill="none" stroke="#000" stroke-width="2.4"/>
<polygon points="597.30,293.70 588.80,298.95 588.80,288.45" fill="#000"/>
<path d="M585.00,293.70 L589.80,293.70" fill="none" stroke="#000" stroke-width="2.2"/>
<polygon points="391.50,163.40 383.80,168.15 383.80,158.65" fill="#000"/>
<path d="M381.00,163.40 L384.80,163.40" fill="none" stroke="#000" stroke-width="2.2"/>
<polygon points="439.50,163.40 431.80,168.15 431.80,158.65" fill="#000"/>
<path d="M429.00,163.40 L432.80,163.40" fill="none" stroke="#000" stroke-width="2.2"/>
<polygon points="487.50,163.40 479.80,168.15 479.80,158.65" fill="#000"/>
<path d="M477.50,163.40 L480.80,163.40" fill="none" stroke="#000" stroke-width="2.2"/>
<polygon points="944.50,89.80 936.50,94.30 936.50,85.30" fill="#000"/>
<path d="M936.00,89.80 L937.50,89.80" fill="none" stroke="#000" stroke-width="2.2"/>
<polygon points="1016.50,89.80 1007.00,94.80 1007.00,84.80" fill="#000"/>
<path d="M998.00,89.80 L1008.00,89.80" fill="none" stroke="#000" stroke-width="2.6" stroke-dasharray="2.3 2.3"/>
<polygon points="780.50,532.60 779.60,542.06 772.39,537.56" fill="#000"/>
<text transform="translate(265.52,41.80) scale(1.0,1)" font-size="12.4" fill="#FF0000" text-anchor="middle" letter-spacing="-0.95" >启动</text>
<text transform="translate(520.77,44.30) scale(1.0,1)" font-size="12.4" fill="#FF0000" text-anchor="middle" letter-spacing="-0.95" >规划</text>
<text transform="translate(816.02,44.40) scale(1.0,1)" font-size="12.4" fill="#FF0000" text-anchor="middle" letter-spacing="-0.95" >执行</text>
<text transform="translate(938.32,44.40) scale(1.0,1)" font-size="12.4" fill="#FF0000" text-anchor="middle" letter-spacing="-0.95" >监控</text>
<text transform="translate(1033.93,44.40) scale(1.0,1)" font-size="12.4" fill="#FF0000" text-anchor="middle" letter-spacing="-0.95" >结束</text>
<text transform="translate(101.53,81.80) scale(1.0,1)" font-size="12.4" fill="#000" text-anchor="middle" letter-spacing="-0.95" >采购</text>
<text transform="translate(102.00,99.75) scale(0.85,1)" font-size="11.5" fill="#000" text-anchor="middle" letter-spacing="0" font-family="Liberation Mono,monospace">SOW</text>
<text transform="translate(101.53,157.80) scale(1.0,1)" font-size="12.4" fill="#000" text-anchor="middle" letter-spacing="-0.95" >授予</text>
<text transform="translate(101.53,176.05) scale(1.0,1)" font-size="12.4" fill="#000" text-anchor="middle" letter-spacing="-0.95" >合同</text>
<text transform="translate(176.93,76.90) scale(1.0,1)" font-size="12.4" fill="#000" text-anchor="middle" letter-spacing="-0.95" >卖方建议书</text>
<text transform="translate(160.78,128.90) scale(1.0,1)" font-size="12.4" fill="#000" text-anchor="middle" letter-spacing="-0.95" >合同</text>
<text transform="translate(198.53,117.30) scale(1.0,1)" font-size="12.4" fill="#000" text-anchor="middle" letter-spacing="-0.95" >商业</text>
<text transform="translate(198.53,135.90) scale(1.0,1)" font-size="12.4" fill="#000" text-anchor="middle" letter-spacing="-0.95" >论证</text>
<text transform="translate(267.02,169.30) scale(1.0,1)" font-size="12.4" fill="#000" text-anchor="middle" letter-spacing="-0.95" >项目选择</text>
<text transform="translate(350.12,159.80) scale(1.0,1)" font-size="12.4" fill="#000" text-anchor="middle" letter-spacing="-0.95" >制定范围</text>
<text transform="translate(350.12,177.80) scale(1.0,1)" font-size="12.4" fill="#000" text-anchor="middle" letter-spacing="-0.95" >管理计划</text>
<text transform="translate(350.12,242.80) scale(1.0,1)" font-size="12.4" fill="#000" text-anchor="middle" letter-spacing="-0.95" >制定进度</text>
<text transform="translate(350.12,260.80) scale(1.0,1)" font-size="12.4" fill="#000" text-anchor="middle" letter-spacing="-0.95" >管理计划</text>
<text transform="translate(350.12,353.80) scale(1.0,1)" font-size="12.4" fill="#000" text-anchor="middle" letter-spacing="-0.95" >制定成本</text>
<text transform="translate(350.12,371.80) scale(1.0,1)" font-size="12.4" fill="#000" text-anchor="middle" letter-spacing="-0.95" >管理计划</text>
<text transform="translate(815.92,185.55) scale(1.0,1)" font-size="12.4" fill="#000" text-anchor="middle" letter-spacing="-0.95" >工作绩效报告</text>
<text transform="translate(773.27,277.80) scale(1.0,1)" font-size="12.4" fill="#000" text-anchor="middle" letter-spacing="-0.95" >可交付</text>
<text transform="translate(773.27,295.80) scale(1.0,1)" font-size="12.4" fill="#000" text-anchor="middle" letter-spacing="-0.95" >成果</text>
<text transform="translate(1041.53,181.10) scale(1.0,1)" font-size="12.4" fill="#000" text-anchor="middle" letter-spacing="-0.95" >验收的可</text>
<text transform="translate(1041.53,200.80) scale(1.0,1)" font-size="12.4" fill="#000" text-anchor="middle" letter-spacing="-0.95" >交付成果</text>
<text transform="translate(1005.52,240.80) scale(1.0,1)" font-size="12.4" fill="#000" text-anchor="middle" letter-spacing="-0.95" >工作绩效</text>
<text transform="translate(1005.52,258.80) scale(1.0,1)" font-size="12.4" fill="#000" text-anchor="middle" letter-spacing="-0.95" >测量结果</text>
<text transform="translate(953.82,406.00) scale(1.0,1)" font-size="12.4" fill="#000" text-anchor="middle" letter-spacing="-0.95" >确认的可</text>
<text transform="translate(953.82,424.80) scale(1.0,1)" font-size="12.4" fill="#000" text-anchor="middle" letter-spacing="-0.95" >交付成果</text>
<text transform="translate(566.52,459.80) scale(1.0,1)" font-size="12.4" fill="#FF0000" text-anchor="middle" letter-spacing="-0.95" >属执行过程组</text>
<text transform="translate(116.53,252.58) scale(1.0,1)" font-size="17" fill="#000" text-anchor="middle" letter-spacing="-0.95" >甲</text>
<text transform="translate(116.53,270.08) scale(1.0,1)" font-size="17" fill="#000" text-anchor="middle" letter-spacing="-0.95" >方</text>
<text transform="translate(160.53,252.58) scale(1.0,1)" font-size="17" fill="#000" text-anchor="middle" letter-spacing="-0.95" >乙</text>
<text transform="translate(160.53,270.08) scale(1.0,1)" font-size="17" fill="#000" text-anchor="middle" letter-spacing="-0.95" >方</text>
</svg>
</body></html>
